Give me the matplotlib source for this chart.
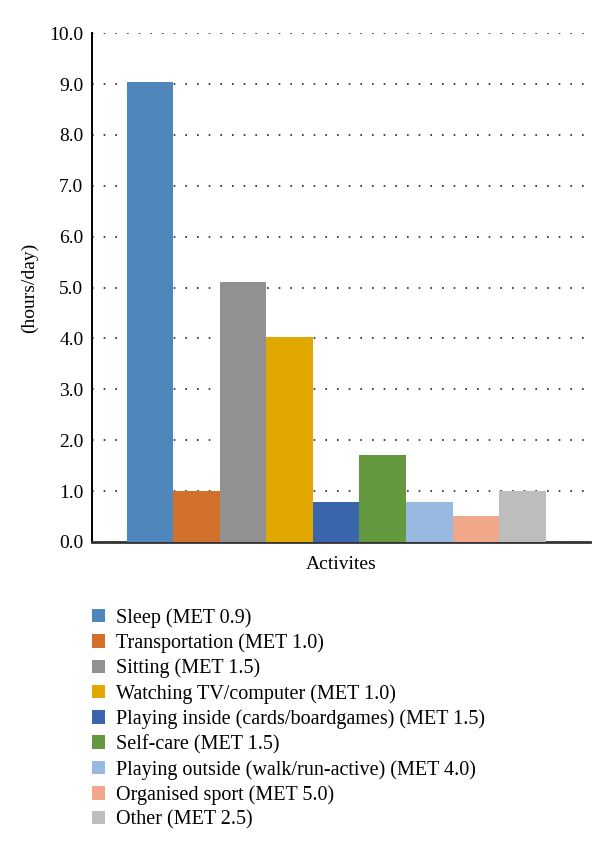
import matplotlib
matplotlib.use("Agg")
import matplotlib.pyplot as plt
from matplotlib.patches import Patch

plt.rcParams['font.family'] = ['Liberation Serif', 'DejaVu Serif']

# data
activities = [
    "Sleep (MET 0.9)",
    "Transportation (MET 1.0)",
    "Sitting (MET 1.5)",
    "Watching TV/computer (MET 1.0)",
    "Playing inside (cards/boardgames) (MET 1.5)",
    "Self-care (MET 1.5)",
    "Playing outside (walk/run-active) (MET 4.0)",
    "Organised sport (MET 5.0)",
    "Other (MET 2.5)",
]
hours = [9.05, 1.0, 5.1, 4.03, 0.78, 1.7, 0.79, 0.5, 1.0]
colors = ["#4f87bd", "#d2702c", "#919191", "#e0a800", "#3b66ad",
          "#64993f", "#98b9e0", "#f0a78a", "#bdbdbd"]
yticks = [0, 1, 2, 3, 4, 5, 6, 7, 8, 9, 10]

fig = plt.figure(figsize=(6.0, 8.52), dpi=100)
ax = fig.add_axes([0.153, 0.364, 0.83, 0.597])

x = list(range(len(hours)))
ax.bar(x, hours, width=1.0, color=colors, zorder=3)

ax.set_xlim(-1.25, 9.45)
ax.set_ylim(0, 10)
ax.set_yticks(yticks)
ax.set_yticklabels([f"{v:.1f}" for v in yticks], fontsize=14)
ax.set_xticks([])
ax.tick_params(axis='y', length=0, pad=6)

ax.yaxis.grid(True, linestyle=(0, (1, 6)), color='#222222', linewidth=1.2, zorder=0)
ax.set_axisbelow(True)

for s in ['top', 'right']:
    ax.spines[s].set_visible(False)
ax.spines['left'].set_linewidth(1.4)
ax.spines['left'].set_color('black')
ax.spines['bottom'].set_linewidth(2)
ax.spines['bottom'].set_color('#333333')

ax.set_xlabel("Activites", fontsize=14, labelpad=10)
ax.set_ylabel("(hours/day)", fontsize=14, labelpad=8)

handles = [Patch(facecolor=c, edgecolor='none') for c in colors]
fig.legend(handles, activities, loc='upper left', bbox_to_anchor=(0.14, 0.296),
           frameon=False, fontsize=14.5, handlelength=0.65, handleheight=0.65,
           handletextpad=0.55, labelspacing=0.28, borderaxespad=0)

fig.savefig("out.png", dpi=100)
